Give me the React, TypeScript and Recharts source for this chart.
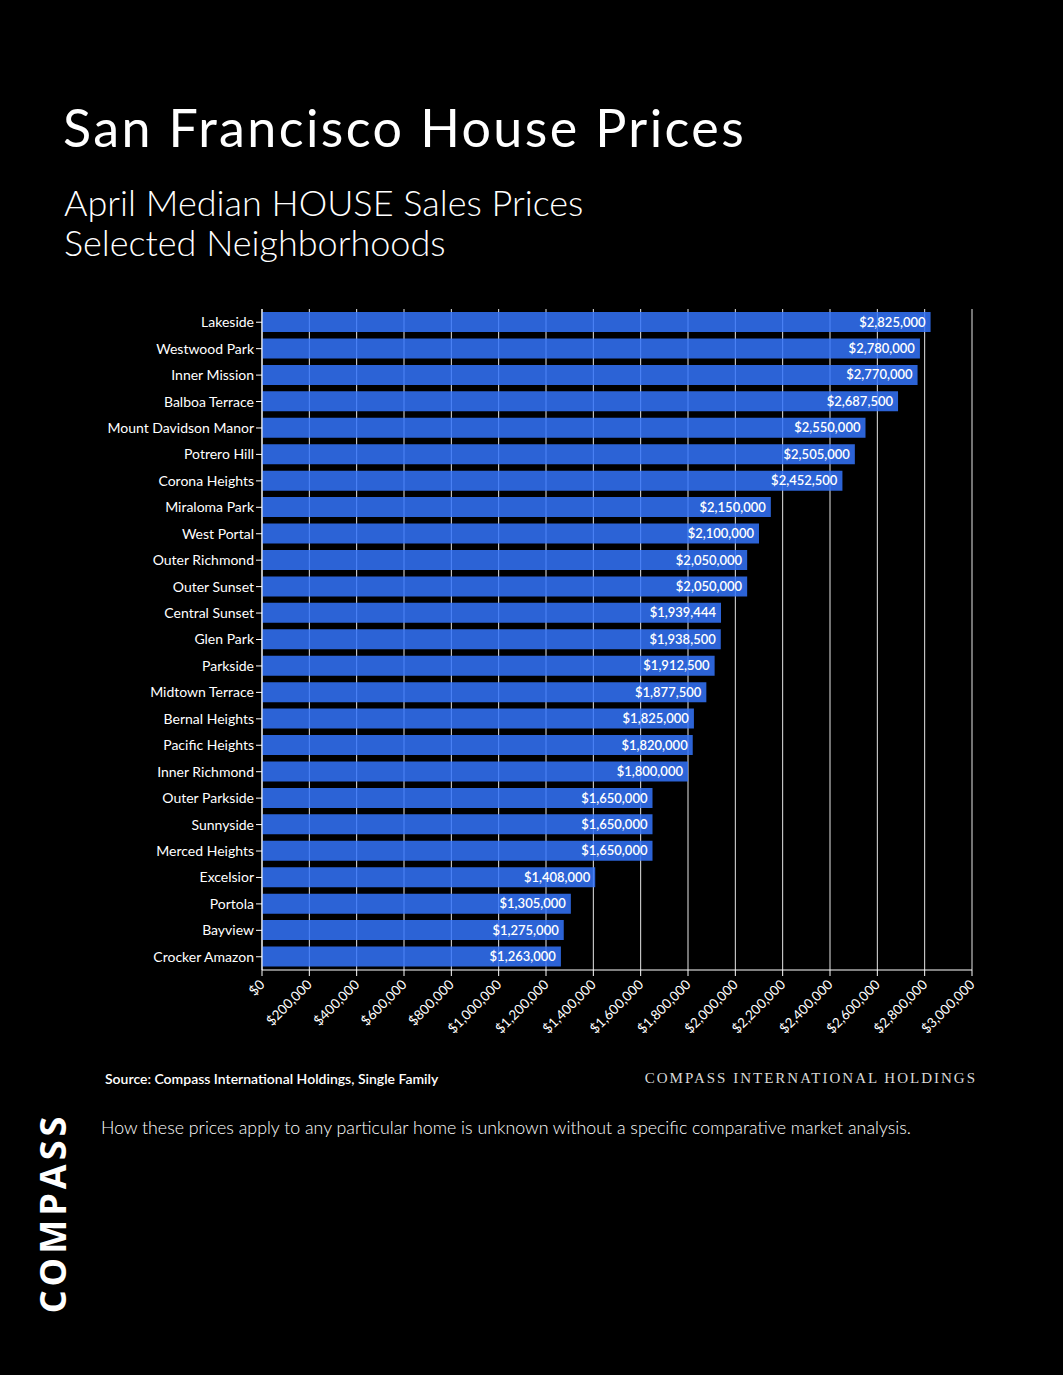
import { BarChart, Bar, XAxis, YAxis, CartesianGrid, LabelList } from 'recharts'

const neighborhoods = [
  'Lakeside', 'Westwood Park', 'Inner Mission', 'Balboa Terrace', 'Mount Davidson Manor',
  'Potrero Hill', 'Corona Heights', 'Miraloma Park', 'West Portal', 'Outer Richmond',
  'Outer Sunset', 'Central Sunset', 'Glen Park', 'Parkside', 'Midtown Terrace',
  'Bernal Heights', 'Pacific Heights', 'Inner Richmond', 'Outer Parkside', 'Sunnyside',
  'Merced Heights', 'Excelsior', 'Portola', 'Bayview', 'Crocker Amazon',
]

const medianPrices = [
  2825000, 2780000, 2770000, 2687500, 2550000,
  2505000, 2452500, 2150000, 2100000, 2050000,
  2050000, 1939444, 1938500, 1912500, 1877500,
  1825000, 1820000, 1800000, 1650000, 1650000,
  1650000, 1408000, 1305000, 1275000, 1263000,
]

const priceTicks = [
  0, 200000, 400000, 600000, 800000, 1000000, 1200000, 1400000,
  1600000, 1800000, 2000000, 2200000, 2400000, 2600000, 2800000, 3000000,
]

const chartData = neighborhoods.map((name, i) => ({ name, price: medianPrices[i] }))

const money = (v: number) => '$' + v.toLocaleString('en-US')

const sans = 'Lato, "Open Sans", sans-serif'

function XTick({ x, y, payload }: any) {
  return (
    <g transform={`translate(${x},${y + 4})`}>
      <text x={0} y={0} dy={5} textAnchor="end" transform="rotate(-45)" fill="#fff" fontSize={13.5} fontFamily={sans}>
        {money(payload.value)}
      </text>
    </g>
  )
}

export default function App() {
  return (
    <div style={{ position: 'absolute', left: 0, top: 0, width: 1063, height: 1375, background: '#000', overflow: 'hidden', fontFamily: sans, color: '#fff' }}>
      <div style={{ position: 'absolute', left: 63, top: 96, fontSize: 52, letterSpacing: 2.4, whiteSpace: 'nowrap' }}>
        San Francisco House Prices
      </div>
      <div style={{ position: 'absolute', left: 64, top: 182, fontSize: 36, lineHeight: '40px', fontWeight: 300, whiteSpace: 'nowrap' }}>
        April Median HOUSE Sales Prices
        <br />
        Selected Neighborhoods
      </div>

      <div style={{ position: 'absolute', left: 0, top: 0 }}>
        <BarChart
          width={1063}
          height={1060}
          data={chartData}
          layout="vertical"
          margin={{ top: 309, right: 91, left: 0, bottom: 0 }}
        >
          <CartesianGrid horizontal={false} vertical stroke="#e6e6e6" />
          <XAxis
            type="number"
            domain={[0, 3000000]}
            ticks={priceTicks}
            interval={0}
            height={90}
            stroke="#fff"
            tickLine={{ stroke: '#fff' }}
            tickSize={6}
            tick={<XTick />}
          />
          <YAxis
            type="category"
            dataKey="name"
            width={262}
            interval={0}
            stroke="#fff"
            tickSize={6}
            tick={{ fill: '#fff', fontSize: 14, fontFamily: sans }}
          />
          <Bar dataKey="price" fill="#3474fc" fillOpacity={0.85} barSize={20} isAnimationActive={false}>
            <LabelList
              dataKey="price"
              position="insideRight"
              offset={5}
              formatter={(v: any) => money(Number(v))}
              fill="#fff"
              fontSize={13}
              fontWeight={600}
              fontFamily={sans}
            />
          </Bar>
        </BarChart>
      </div>

      <div style={{ position: 'absolute', left: 105, top: 1070, fontSize: 14, fontWeight: 600, whiteSpace: 'nowrap' }}>
        Source: Compass International Holdings, Single Family
      </div>
      <div style={{ position: 'absolute', right: 86, top: 1070, fontSize: 15, letterSpacing: 2, color: '#d8d8d8', fontFamily: '"Liberation Serif", serif', whiteSpace: 'nowrap' }}>
        COMPASS INTERNATIONAL HOLDINGS
      </div>
      <div style={{ position: 'absolute', left: 101, top: 1116, fontSize: 17.8, fontWeight: 300, whiteSpace: 'nowrap' }}>
        How these prices apply to any particular home is unknown without a specific comparative market analysis.
      </div>
      <div
        style={{
          position: 'absolute', left: 52, top: 1213, transform: 'translate(-50%, -50%) rotate(-90deg)',
          fontSize: 36, fontWeight: 700, letterSpacing: 4, whiteSpace: 'nowrap', fontFamily: '"Open Sans", sans-serif',
        }}
      >
        COMPASS
      </div>
    </div>
  )
}
